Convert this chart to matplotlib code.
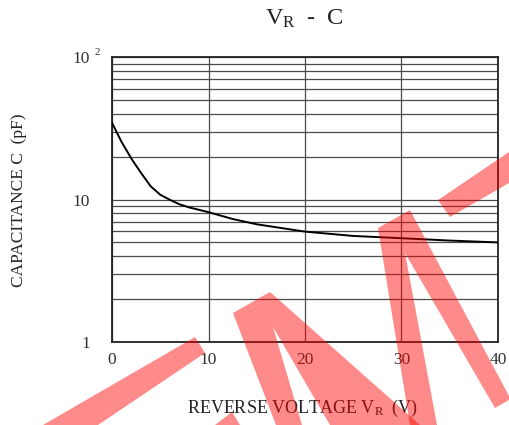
import numpy as np
import matplotlib
matplotlib.use('Agg')
import matplotlib.pyplot as plt
from matplotlib.patches import Polygon
from matplotlib.ticker import FixedLocator, NullFormatter
from matplotlib.transforms import blended_transform_factory

plt.rcParams['font.family'] = ['Liberation Serif', 'DejaVu Serif']
plt.rcParams['mathtext.fontset'] = 'custom'
plt.rcParams['mathtext.rm'] = 'Liberation Serif'

# curve (reverse voltage V, capacitance pF)
vr = [0, 1, 2, 3, 4, 5, 6, 7, 8, 10, 12.5, 15, 20, 25, 30, 35, 40]
cap = [34.5, 25.3, 19.4, 15.4, 12.4, 10.8, 9.95, 9.25, 8.8, 8.15, 7.3, 6.7, 5.95, 5.55, 5.35, 5.15, 5.0]

x_ticks = [0, 10, 20, 30, 40]
x_labels = ['0', '10', '20', '30', '40']
y_ticks = [1, 10, 100]
y_labels = ['1', '10', '10']

W, H = 509, 425
fig = plt.figure(figsize=(W / 100, H / 100), dpi=100)
ax = fig.add_axes([112 / W, 1 - 342 / H, (498 - 112) / W, (342 - 57) / H])

ax.set_yscale('log')
ax.set_xlim(0, 40)
ax.set_ylim(1, 100)

# grid: vertical majors, horizontal minors of each decade
ax.xaxis.set_major_locator(FixedLocator(x_ticks))
ax.set_xticklabels(x_labels)
ax.yaxis.set_major_locator(FixedLocator(y_ticks))
ax.set_yticklabels(y_labels)
minor = [k * d for d in (1, 10) for k in range(2, 10)]
ax.yaxis.set_minor_locator(FixedLocator(minor))
ax.yaxis.set_minor_formatter(NullFormatter())

ax.grid(True, axis='x', which='major', color='#4a4a4a', lw=0.9)
ax.grid(True, axis='y', which='both', color='#4a4a4a', lw=0.9)
ax.tick_params(which='both', length=0, labelsize=12.5, colors='#333333')
ax.tick_params(axis='x', pad=7)
ax.tick_params(axis='y', pad=16)
for s in ax.spines.values():
    s.set_color('#222222')
    s.set_linewidth(1.3)

ax.plot(vr, cap, color='black', lw=1.4, zorder=3)

# exponent of the 10^2 label
tr = blended_transform_factory(ax.transAxes, ax.transData)
ax.text(-0.046, 100, '2', transform=tr, fontsize=8, color='#333333', ha='left', va='bottom')

fig.text(304 / W, 1 - 25 / H, r'$\mathregular{V_R}$  -  C', ha='center', va='baseline', fontsize=17.5, color='#222222')
fig.text(303 / W, 1 - 413 / H, r'REVERSE VOLTAGE $\mathregular{V_R}$  (V)', ha='center', va='baseline',
         fontsize=13, color='#222222')
fig.text(19 / W, 1 - 200 / H, 'CAPACITANCE C  (pF)', rotation=90, ha='center', va='center',
         fontsize=12.5, color='#222222')

# red watermark strokes (figure pixel coordinates)
marks = [
    [(43, 425), (195, 337), (205, 353), (98, 425)],
    [(215, 425), (232, 412), (240, 425)],
    [(233, 313), (270, 292), (420, 425), (330, 425), (273, 327), (302, 425), (276, 425)],
    [(378, 228), (410, 210), (509, 396), (509, 400), (495, 408), (405, 253), (437, 425), (410, 425)],
    [(438, 200), (509, 152), (509, 183), (450, 217)],
]
for m in marks:
    pts = [(x / W, 1 - y / H) for x, y in m]
    fig.add_artist(Polygon(pts, closed=True, transform=fig.transFigure, facecolor='#ff0000',
                           edgecolor='none', alpha=0.46, zorder=10))

fig.savefig('out.png', dpi=100)
